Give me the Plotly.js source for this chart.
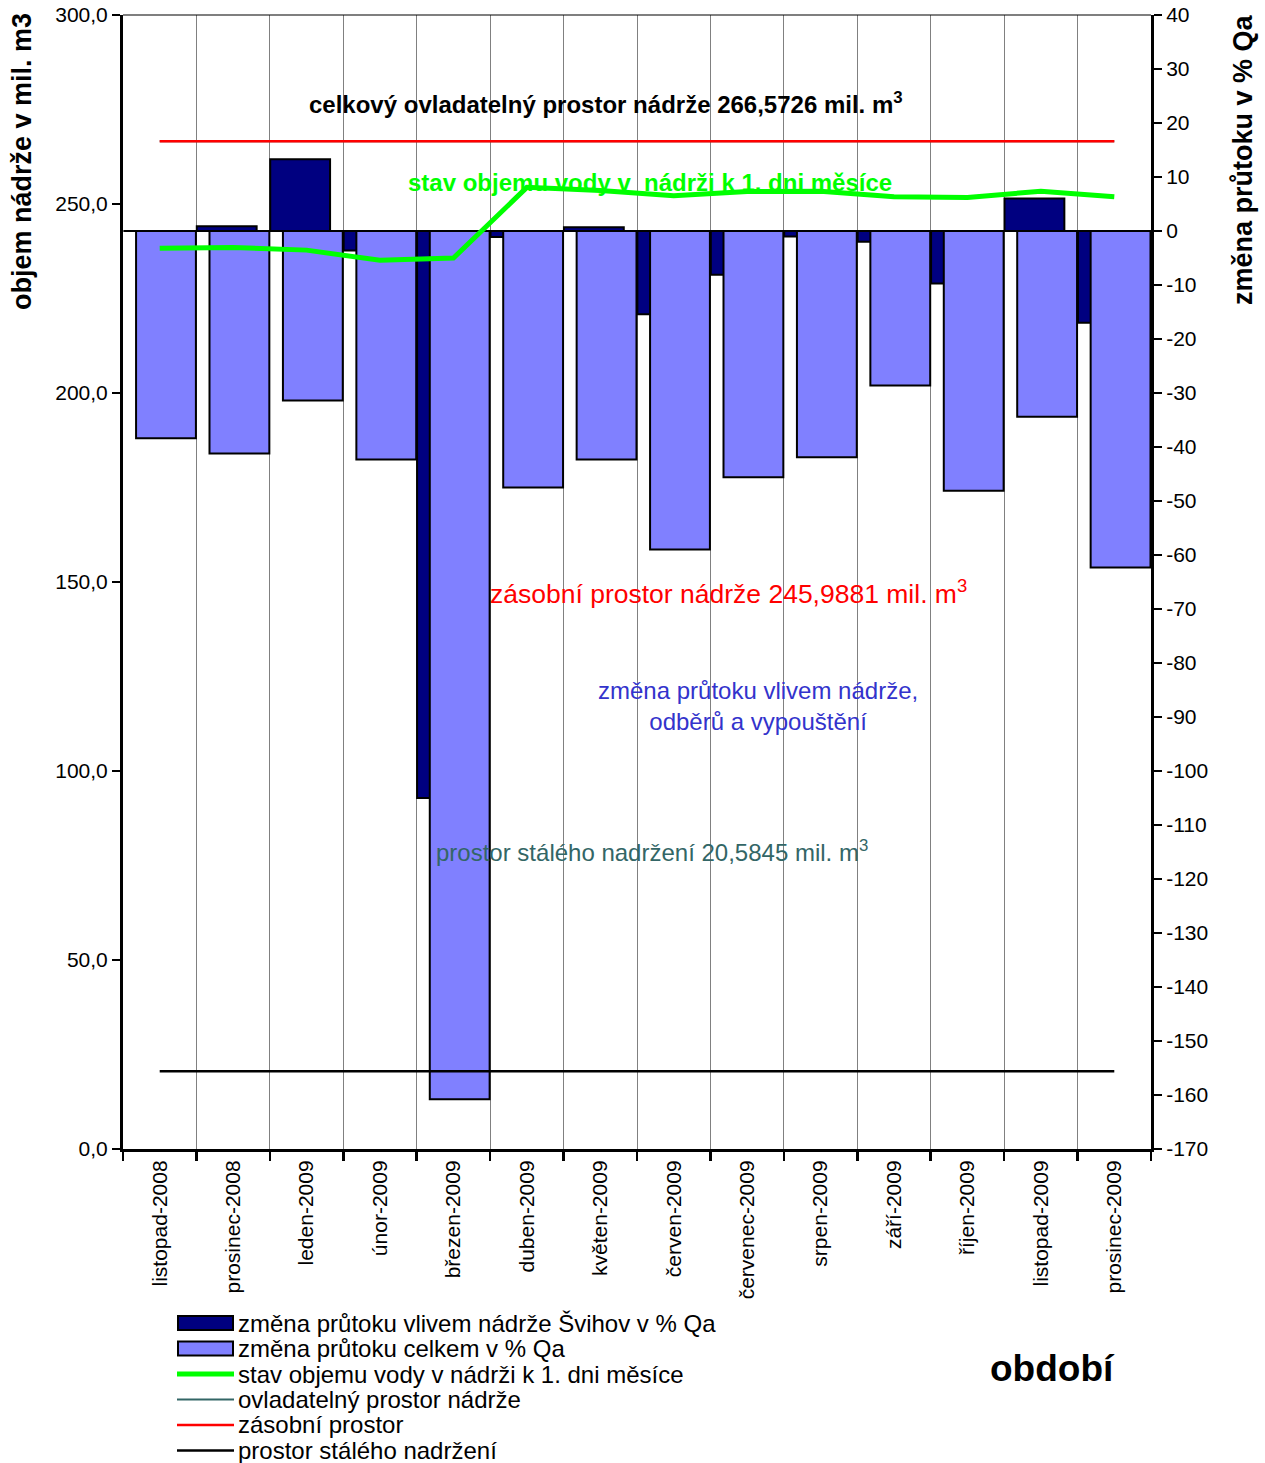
<!DOCTYPE html>
<html>
<head>
<meta charset="utf-8">
<script src="https://cdn.plot.ly/plotly-3.0.1.min.js"></script>
<style>
  html, body { margin: 0; padding: 0; background: #ffffff; }
  #chart { width: 1265px; height: 1463px; }
</style>
</head>
<body>
<div id="chart"></div>
<script>
// ---------- data ----------
const categories = ['listopad-2008', 'prosinec-2008', 'leden-2009', 'únor-2009', 'březen-2009', 'duben-2009',
  'květen-2009', 'červen-2009', 'červenec-2009', 'srpen-2009', 'září-2009', 'říjen-2009', 'listopad-2009', 'prosinec-2009'];

// změna průtoku vlivem nádrže Švihov v % Qa (right axis)
const zmenaSvihov = [0, 0.9, 13.3, -3.6, -105.0, -1.1, 0.7, -15.4, -8.1, -1.0, -2.0, -9.7, 6.0, -17.0];
// změna průtoku celkem v % Qa (right axis)
const zmenaCelkem = [-38.4, -41.2, -31.4, -42.3, -160.8, -47.5, -42.3, -59.0, -45.6, -41.9, -28.6, -48.1, -34.4, -62.3];
// stav objemu vody v nádrži k 1. dni měsíce (left axis, mil. m3)
const stavObjemu = [238.3, 238.5, 237.8, 235.1, 235.7, 254.4, 253.6, 252.2, 253.3, 253.4, 251.9, 251.7, 253.4, 251.9];
// horizontal reference levels (left axis, mil. m3)
const ovladatelny = [266.5726, 266.5726, 266.5726, 266.5726, 266.5726, 266.5726, 266.5726, 266.5726, 266.5726, 266.5726, 266.5726, 266.5726, 266.5726, 266.5726];
const zasobni = [266.5726, 266.5726, 266.5726, 266.5726, 266.5726, 266.5726, 266.5726, 266.5726, 266.5726, 266.5726, 266.5726, 266.5726, 266.5726, 266.5726];
const staleNadrzeni = [20.5845, 20.5845, 20.5845, 20.5845, 20.5845, 20.5845, 20.5845, 20.5845, 20.5845, 20.5845, 20.5845, 20.5845, 20.5845, 20.5845];

// tick labels
const leftTickVals = [0, 50, 100, 150, 200, 250, 300];
const leftTickText = ['0,0', '50,0', '100,0', '150,0', '200,0', '250,0', '300,0'];
const rightTickVals = [40, 30, 20, 10, 0, -10, -20, -30, -40, -50, -60, -70, -80, -90, -100, -110, -120, -130, -140, -150, -160, -170];
const rightTickText = ['40', '30', '20', '10', '0', '-10', '-20', '-30', '-40', '-50', '-60', '-70', '-80', '-90', '-100', '-110', '-120', '-130', '-140', '-150', '-160', '-170'];

// ---------- layout helpers ----------
const FONT = 'Liberation Sans, Arial, sans-serif';
const L = 123, R = 1151, T = 15, B = 1149;
const px = x => (x - L) / (R - L);
const py = y => (B - y) / (B - T);

const traces = [
  {
    type: 'bar', name: 'změna průtoku vlivem nádrže Švihov v % Qa',
    x: categories, y: zmenaSvihov, yaxis: 'y', xaxis: 'x',
    offset: -0.495, width: 0.815,
    marker: { color: '#000080', line: { color: '#000000', width: 2 } },
    hoverinfo: 'skip'
  },
  {
    type: 'bar', name: 'změna průtoku celkem v % Qa',
    x: categories, y: zmenaCelkem, yaxis: 'y', xaxis: 'x',
    offset: -0.322, width: 0.815,
    marker: { color: '#8080ff', line: { color: '#000000', width: 2 } },
    hoverinfo: 'skip'
  },
  {
    type: 'scatter', mode: 'lines', name: 'stav objemu vody v nádrži k 1. dni měsíce',
    x: categories, y: stavObjemu, yaxis: 'y2', xaxis: 'x',
    line: { color: '#00ff00', width: 5 }, hoverinfo: 'skip'
  },
  {
    type: 'scatter', mode: 'lines', name: 'ovladatelný prostor nádrže',
    x: categories, y: ovladatelny, yaxis: 'y2', xaxis: 'x',
    line: { color: '#336666', width: 2 }, hoverinfo: 'skip'
  },
  {
    type: 'scatter', mode: 'lines', name: 'zásobní prostor',
    x: categories, y: zasobni, yaxis: 'y2', xaxis: 'x',
    line: { color: '#ff0000', width: 2.5 }, hoverinfo: 'skip'
  },
  {
    type: 'scatter', mode: 'lines', name: 'prostor stálého nadržení',
    x: categories, y: staleNadrzeni, yaxis: 'y2', xaxis: 'x',
    line: { color: '#000000', width: 2.5 }, hoverinfo: 'skip'
  }
];

// ---------- legend (built from the traces above) ----------
const legendRowsY = [1323, 1348.5, 1374, 1399.5, 1425, 1450.5];
const legendShapes = [];
const legendTexts = [];
traces.forEach((tr, i) => {
  const yc = legendRowsY[i];
  if (tr.type === 'bar') {
    legendShapes.push({ type: 'rect', xref: 'paper', yref: 'paper',
      x0: px(178), x1: px(233), y0: py(yc - 7), y1: py(yc + 7),
      fillcolor: tr.marker.color, line: { color: '#000000', width: 2 } });
  } else {
    legendShapes.push({ type: 'line', xref: 'paper', yref: 'paper',
      x0: px(177), x1: px(234), y0: py(yc), y1: py(yc),
      line: { color: tr.line.color, width: tr.line.width } });
  }
  legendTexts.push({ xref: 'paper', yref: 'paper', x: px(236), y: py(yc), xanchor: 'left', yanchor: 'middle',
    showarrow: false, text: tr.name, font: { family: FONT, size: 24, color: '#000000' } });
});

const layout = {
  width: 1265, height: 1463,
  paper_bgcolor: '#ffffff', plot_bgcolor: '#ffffff',
  margin: { l: L, r: 1265 - R, t: T, b: 1463 - B, pad: 0, autoexpand: false },
  font: { family: FONT, size: 21, color: '#000000' },
  barmode: 'overlay',
  showlegend: false,
  xaxis: {
    type: 'category', categoryorder: 'array', categoryarray: categories,
    range: [-0.5, 13.5], automargin: false,
    tickson: 'boundaries', ticks: 'outside', ticklen: 9, tickwidth: 2.5, tickcolor: '#000000',
    showgrid: true, gridcolor: '#808080', gridwidth: 1,
    showline: true, linecolor: '#000000', linewidth: 3,
    tickangle: -90, tickfont: { family: FONT, size: 21, color: '#000000' },
    zeroline: false, fixedrange: true
  },
  yaxis: {
    side: 'right', range: [-170, 40], automargin: false,
    tickmode: 'array', tickvals: rightTickVals, ticktext: rightTickText,
    ticks: 'outside', ticklen: 8, tickwidth: 2.5, tickcolor: '#000000',
    showline: true, linecolor: '#000000', linewidth: 3,
    showgrid: false, zeroline: false,
    tickfont: { family: FONT, size: 21, color: '#000000' }, fixedrange: true
  },
  yaxis2: {
    side: 'left', overlaying: 'y', range: [0, 300], automargin: false,
    tickmode: 'array', tickvals: leftTickVals, ticktext: leftTickText,
    ticks: 'outside', ticklen: 8, tickwidth: 2.5, tickcolor: '#000000',
    showline: true, linecolor: '#000000', linewidth: 3,
    showgrid: false, zeroline: false,
    tickfont: { family: FONT, size: 21, color: '#000000' }, fixedrange: true
  },
  yaxis3: {
    side: 'left', overlaying: 'y', range: [0, 300], anchor: 'x', automargin: false,
    tickmode: 'array', tickvals: leftTickVals, ticks: 'inside', ticklen: 7, tickwidth: 2.5, tickcolor: '#000000',
    showticklabels: false, showline: false, showgrid: false, zeroline: false, fixedrange: true
  },
  yaxis4: {
    side: 'right', overlaying: 'y', range: [-170, 40], anchor: 'x', automargin: false,
    tickmode: 'array', tickvals: rightTickVals, ticks: 'inside', ticklen: 7, tickwidth: 2.5, tickcolor: '#000000',
    showticklabels: false, showline: false, showgrid: false, zeroline: false, fixedrange: true
  },
  shapes: [
    { type: 'line', xref: 'paper', yref: 'paper', x0: 0, x1: 1, y0: 1, y1: 1, line: { color: '#000000', width: 1.2 } }
  ].concat(legendShapes),
  annotations: [
    { xref: 'paper', yref: 'paper', x: px(606), y: py(103), xanchor: 'center', yanchor: 'middle', showarrow: false,
      text: '<b>celkový ovladatelný prostor nádrže 266,5726 mil. m<sup>3</sup></b>',
      font: { family: FONT, size: 24, color: '#000000' } },
    { xref: 'paper', yref: 'paper', x: px(650), y: py(182), xanchor: 'center', yanchor: 'middle', showarrow: false,
      text: '<b>stav objemu vody v  nádrži k 1. dni měsíce</b>',
      font: { family: FONT, size: 24, color: '#00ff00' } },
    { xref: 'paper', yref: 'paper', x: px(728), y: py(592), xanchor: 'center', yanchor: 'middle', showarrow: false,
      text: 'zásobní prostor nádrže 245,9881 mil. m<sup>3</sup>',
      font: { family: FONT, size: 26.5, color: '#ff0000' } },
    { xref: 'paper', yref: 'paper', x: px(758), y: py(706), xanchor: 'center', yanchor: 'middle', showarrow: false,
      align: 'center',
      text: 'změna průtoku vlivem nádrže,<br>odběrů a vypouštění',
      font: { family: FONT, size: 24, color: '#3333cc' } },
    { xref: 'paper', yref: 'paper', x: px(652), y: py(851), xanchor: 'center', yanchor: 'middle', showarrow: false,
      text: 'prostor stálého nadržení 20,5845 mil. m<sup>3</sup>',
      font: { family: FONT, size: 24, color: '#336666' } },
    { xref: 'paper', yref: 'paper', x: px(1052), y: py(1368), xanchor: 'center', yanchor: 'middle', showarrow: false,
      text: '<b>období</b>',
      font: { family: FONT, size: 37, color: '#000000' } },
    { xref: 'paper', yref: 'paper', x: px(22), y: py(162), xanchor: 'center', yanchor: 'middle', showarrow: false,
      textangle: -90, text: '<b>objem nádrže v mil. m3</b>',
      font: { family: FONT, size: 27, color: '#000000' } },
    { xref: 'paper', yref: 'paper', x: px(1243), y: py(160), xanchor: 'center', yanchor: 'middle', showarrow: false,
      textangle: -90, text: '<b>změna průtoku v % Qa</b>',
      font: { family: FONT, size: 27, color: '#000000' } }
  ].concat(legendTexts)
};

Plotly.newPlot('chart', traces, layout, { displayModeBar: false, staticPlot: true });
</script>
</body>
</html>
